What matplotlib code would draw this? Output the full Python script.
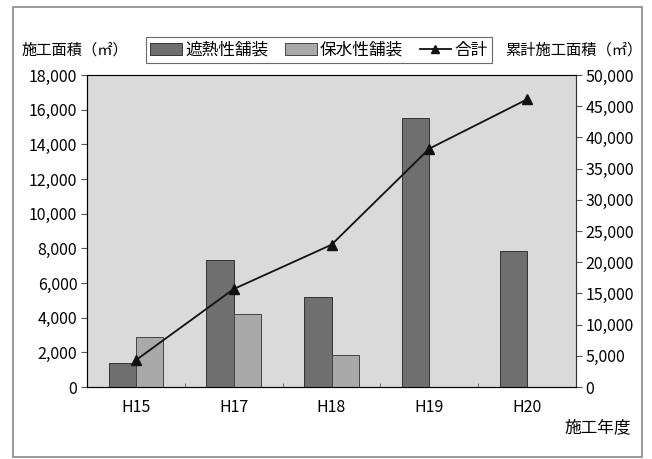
import numpy as np
import matplotlib
matplotlib.use('Agg')
import matplotlib.pyplot as plt
from matplotlib.patches import Rectangle
from matplotlib.lines import Line2D
from matplotlib.ticker import FuncFormatter

plt.rcParams['font.family'] = ['Noto Sans CJK JP', 'DejaVu Sans']

years = ['H15', 'H17', 'H18', 'H19', 'H20']
shanetsu = [1370, 7300, 5200, 15500, 7850]
hosui = [2900, 4200, 1850, 0, 0]
total = [4300, 15700, 22800, 38200, 46100]

dark = '#6f6f6f'
light = '#a9a9a9'
bg = '#dadada'
fs = 11.5

fig = plt.figure(figsize=(6.52, 4.59), dpi=100)
fig.patches.append(Rectangle((13 / 652, 2 / 459), 629 / 652, 450 / 459, transform=fig.transFigure,
                             fill=False, edgecolor='#888888', linewidth=1.2))

ax = fig.add_axes([87 / 652, 1 - 387 / 459, 489 / 652, 312 / 459])
ax.set_facecolor(bg)
x = np.arange(len(years))
w = 0.28
ax.bar(x - w / 2, shanetsu, w, color=dark, edgecolor='#333333', linewidth=0.7, zorder=2)
ax.bar(x + w / 2, hosui, w, color=light, edgecolor='#444444', linewidth=0.7, zorder=2)
ax.set_xlim(-0.5, len(years) - 0.5)
ax.set_ylim(0, 18000)
ax.set_yticks(np.arange(0, 18001, 2000))
fmt = FuncFormatter(lambda v, p: f'{int(v):,}')
ax.yaxis.set_major_formatter(fmt)
ax.set_xticks(x)
ax.set_xticklabels(years)
ax.set_xticks(np.arange(0.5, len(years) - 1, 1), minor=True)
ax.tick_params(axis='x', which='major', length=0, labelsize=fs, pad=9)
ax.tick_params(axis='x', which='minor', direction='in', length=3, color='#555555')
ax.tick_params(axis='y', length=4, labelsize=fs, color='#555555', pad=3)
for s in ax.spines.values():
    s.set_color('#777777')
    s.set_linewidth(0.8)
ax.spines['bottom'].set_color('#333333')
ax.spines['left'].set_color('#333333')

ax2 = ax.twinx()
ax2.plot(x, total, color='#111111', linewidth=1.3, marker='^', markersize=7, zorder=3)
ax2.set_ylim(0, 50000)
ax2.set_yticks(np.arange(0, 50001, 5000))
ax2.yaxis.set_major_formatter(fmt)
ax2.tick_params(axis='y', length=4, labelsize=fs, color='#555555', pad=3)
ax2.spines['right'].set_color('#333333')

fig.text(22 / 652, 1 - 50 / 459, '施工面積（㎡）', fontsize=11, va='center', ha='left')
fig.text(642 / 652, 1 - 50 / 459, '累計施工面積（㎡）', fontsize=11, va='center', ha='right')
fig.text(631 / 652, 1 - 428 / 459, '施工年度', fontsize=12, va='center', ha='right')

handles = [Rectangle((0, 0), 1, 1, facecolor=dark, edgecolor='#333333', linewidth=0.7),
           Rectangle((0, 0), 1, 1, facecolor=light, edgecolor='#444444', linewidth=0.7),
           Line2D([], [], color='#111111', marker='^', markersize=6, linewidth=1.3)]
leg = fig.legend(handles, ['遮熱性舗装', '保水性舗装', '合計'], loc='center',
                 bbox_to_anchor=(319 / 652, 1 - 50 / 459), ncol=3, fontsize=12,
                 frameon=True, fancybox=False, edgecolor='#444444', handlelength=1.9,
                 handleheight=0.7, handletextpad=0.2, columnspacing=1.0, borderpad=0.25,
                 borderaxespad=0)
leg.get_frame().set_linewidth(0.8)

fig.savefig('out.png', dpi=100, facecolor='white')
